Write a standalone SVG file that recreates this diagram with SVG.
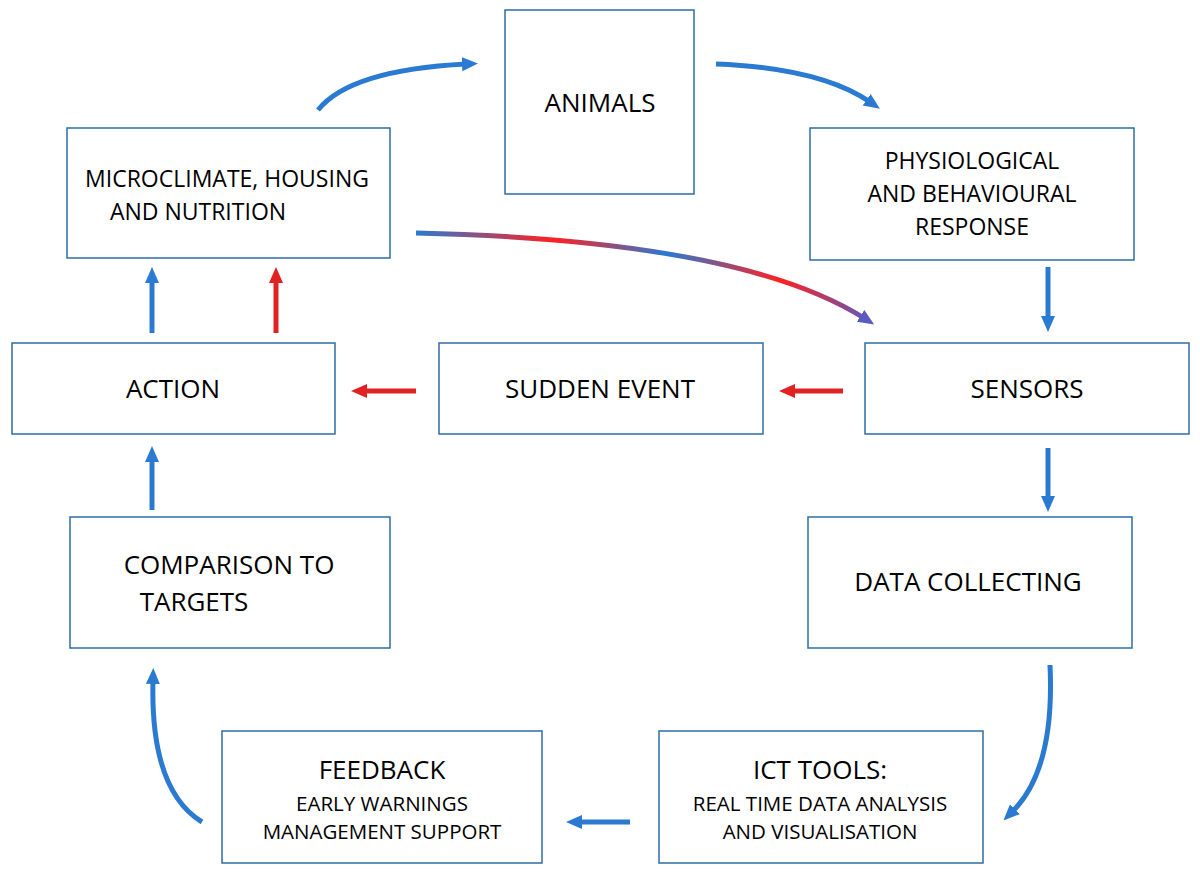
<svg xmlns="http://www.w3.org/2000/svg" width="1200" height="872" viewBox="0 0 1200 872">
<style>
.b{fill:#fff;stroke:#2e6da4;stroke-width:1.5}
.t{font-family:"Open Sans",sans-serif;fill:#000;text-anchor:middle}
.bl{fill:none;stroke:#2a7ad2;stroke-width:5}
.rd{fill:none;stroke:#e02222;stroke-width:5}
</style>
<defs>
<marker id="ab" markerUnits="userSpaceOnUse" markerWidth="16" markerHeight="16" refX="4" refY="8" orient="auto"><path d="M0,1 L16,8 L0,15 Z" fill="#2a7ad2"/></marker>
<marker id="ar" markerUnits="userSpaceOnUse" markerWidth="16" markerHeight="16" refX="4" refY="8" orient="auto"><path d="M0,1 L16,8 L0,15 Z" fill="#e02222"/></marker>
<marker id="ap" markerUnits="userSpaceOnUse" markerWidth="16" markerHeight="16" refX="4" refY="8" orient="auto"><path d="M0,1 L16,8 L0,15 Z" fill="#5a5ac0"/></marker>
<linearGradient id="g" gradientUnits="userSpaceOnUse" x1="416" y1="0" x2="872" y2="0">
<stop offset="0" stop-color="#2a7ad2"/><stop offset="0.3" stop-color="#ff2020"/><stop offset="0.55" stop-color="#2a7ad2"/><stop offset="0.8" stop-color="#ff2020"/><stop offset="1" stop-color="#5a5ac0"/>
</linearGradient>
</defs>
<g id="connectors">
<path class="bl" d="M318,110 Q350,70 466,64" marker-end="url(#ab)"/>
<path class="bl" d="M716,64 Q820,68 870,102" marker-end="url(#ab)"/>
<path d="M416,233 Q740,240 864,318" fill="none" stroke="url(#g)" stroke-width="5" marker-end="url(#ap)"/>
<path class="bl" d="M1048,267 V320" marker-end="url(#ab)"/>
<path class="bl" d="M1048,448 V500" marker-end="url(#ab)"/>
<path class="bl" d="M1050,665 Q1055,770 1012,812" marker-end="url(#ab)"/>
<path class="bl" d="M630,822 H578" marker-end="url(#ab)"/>
<path class="bl" d="M202,822 Q150,790 153,680" marker-end="url(#ab)"/>
<path class="bl" d="M152,510 V458" marker-end="url(#ab)"/>
<path class="bl" d="M152,333 V279" marker-end="url(#ab)"/>
<path class="rd" d="M276,333 V279" marker-end="url(#ar)"/>
<path class="rd" d="M843,391 H791" marker-end="url(#ar)"/>
<path class="rd" d="M416,391 H363" marker-end="url(#ar)"/>
</g>
<g id="animals"><rect class="b" x="505" y="10" width="189" height="184"/><text class="t" x="600" y="112" font-size="26">ANIMALS</text></g>
<g id="micro"><rect class="b" x="67" y="128" width="323" height="130"/><text class="t" x="227" y="187" font-size="23">MICROCLIMATE, HOUSING</text><text class="t" x="198" y="220" font-size="23">AND NUTRITION</text></g>
<g id="phys"><rect class="b" x="810" y="128" width="324" height="132"/><text class="t" x="972" y="169" font-size="23">PHYSIOLOGICAL</text><text class="t" x="972" y="202" font-size="23">AND BEHAVIOURAL</text><text class="t" x="972" y="235" font-size="23">RESPONSE</text></g>
<g id="action"><rect class="b" x="12" y="343" width="323" height="91"/><text class="t" x="173" y="398" font-size="26">ACTION</text></g>
<g id="sudden"><rect class="b" x="439" y="343" width="324" height="91"/><text class="t" x="600" y="398" font-size="26">SUDDEN EVENT</text></g>
<g id="sensors"><rect class="b" x="865" y="343" width="324" height="91"/><text class="t" x="1027" y="398" font-size="26">SENSORS</text></g>
<g id="comparison"><rect class="b" x="70" y="517" width="320" height="131"/><text class="t" x="229" y="574" font-size="26">COMPARISON TO</text><text class="t" x="194" y="611" font-size="26">TARGETS</text></g>
<g id="data"><rect class="b" x="808" y="517" width="324" height="131"/><text class="t" x="968" y="591" font-size="26">DATA COLLECTING</text></g>
<g id="feedback"><rect class="b" x="222" y="731" width="320" height="132"/><text class="t" x="382" y="779" font-size="26">FEEDBACK</text><text class="t" x="382" y="811" font-size="20.5">EARLY WARNINGS</text><text class="t" x="382" y="839" font-size="20.5">MANAGEMENT SUPPORT</text></g>
<g id="ict"><rect class="b" x="659" y="731" width="324" height="132"/><text class="t" x="820" y="779" font-size="26">ICT TOOLS:</text><text class="t" x="820" y="811" font-size="20.5">REAL TIME DATA ANALYSIS</text><text class="t" x="820" y="839" font-size="20.5">AND VISUALISATION</text></g>
</svg>
